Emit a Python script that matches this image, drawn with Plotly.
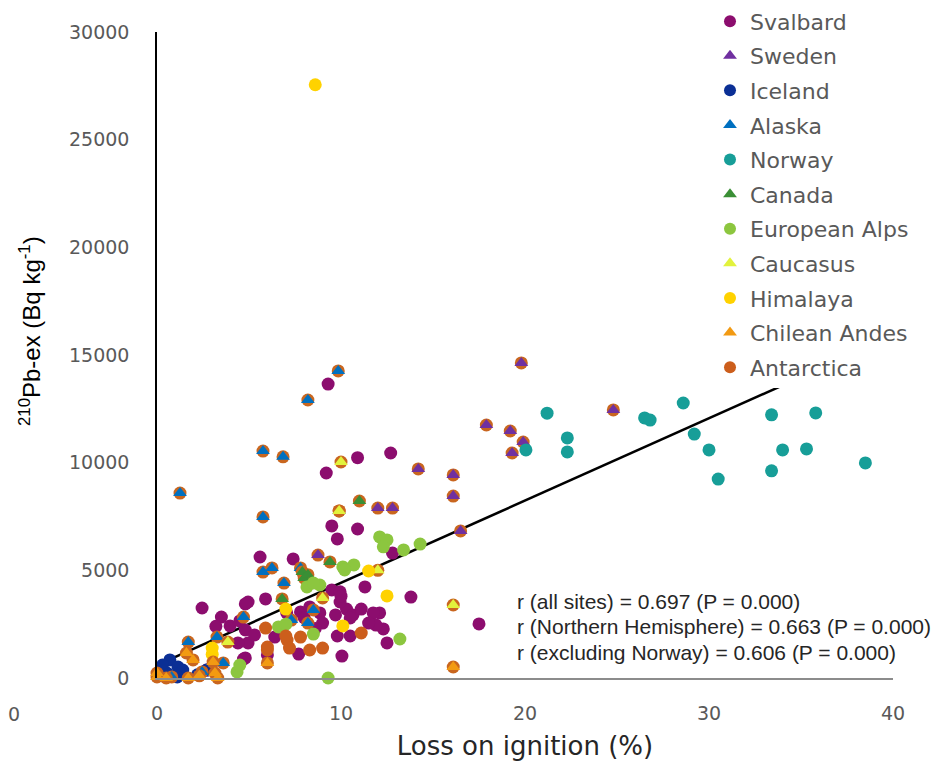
import plotly.graph_objects as go
import numpy as np

# ---- data (LOI %, 210Pb-ex Bq/kg) ----
svalbard_x = [9.3, 9.2, 10.9, 12.7, 9.5, 10.9, 9.8, 12.8, 13.8, 12.1, 12.3, 12.5, 17.5, 5.6, 7.4,
              9.5, 9.95, 11.3, 2.45, 3.5, 3.97, 4.5, 4.95, 5.9, 7.05, 7.8, 8.85, 9.0, 9.7, 10.3,
              10.65, 11.1, 11.75, 11.9, 10.5, 9.8, 7.7, 10.05, 4.7, 6.0, 9.95, 11.5, 10.5, 4.8,
              4.8, 4.95, 4.4, 4.8, 2.7, 8.3, 8.0, 10.0, 6.4, 5.3, 3.2, 8.6]
svalbard_y = [13650, 9520, 10230, 10450, 7060, 6920, 6460, 5800, 3760, 3020, 2280, 1630, 2510, 5620, 5530,
              4090, 4000, 4230, 3250, 2830, 2420, 2650, 3530, 3670, 3020, 3070, 3020, 2550, 2930, 3200,
              2930, 3200, 3020, 2460, 1950, 1950, 1110, 1020, 880, 1070, 3530, 2550, 2790, 3440,
              2230, 1630, 1630, 930, 370, 3300, 2800, 3800, 1900, 2000, 2400, 2300]

sweden_x = [19.8, 24.8, 17.9, 19.2, 19.9, 19.3, 14.2, 16.1, 16.1, 12.0, 12.8, 8.75, 16.5]
sweden_y = [14630, 12450, 11750, 11470, 10960, 10450, 9710, 9430, 8450, 7890, 7890, 5710, 6830]

iceland_x = [0.7, 1.14, 1.4, 0.54, 1.1, 2.2, 2.7, 0.3]
iceland_y = [840, 510, 370, 230, 50, 150, 370, 600]

alaska_x = [9.85, 8.2, 5.76, 6.85, 1.25, 5.76, 5.76, 6.25, 6.9, 7.3, 8.2, 8.5, 4.7, 1.7, 3.26,
            0.8, 2.45, 3.6, 9.9, 7.8]
alaska_y = [14260, 12910, 10540, 10270, 8590, 7480, 4920, 5110, 4410, 2690, 2550, 3160, 2830, 1670, 1900,
            50, 280, 700, 7760, 5110]

norway_x = [21.2, 22.3, 22.3, 20.05, 26.5, 26.8, 28.6, 29.2, 30.0, 30.5, 33.4, 33.4, 34.0, 35.3, 35.8, 38.5]
norway_y = [12300, 11150, 10500, 10590, 12080, 11980, 12770, 11330, 10590, 9240, 12220, 9620, 10590, 10640, 12310, 9990]

canada_x = [11.0, 9.4, 7.9, 8.0, 6.8, 8.2]
canada_y = [8220, 5390, 4920, 4640, 3670, 4800]

alps_x = [12.1, 12.5, 12.3, 13.4, 14.3, 10.1, 10.7, 10.2, 8.15, 8.85, 8.5, 6.6, 8.5, 4.35, 4.5, 9.3, 13.2, 7.0]
alps_y = [6550, 6410, 6090, 5950, 6220, 5160, 5250, 5020, 4230, 4320, 4410, 2370, 2040, 280, 600, 0, 1810, 2500]

caucasus_x = [10.0, 9.9, 9.0, 3.85, 16.1, 12.0]
caucasus_y = [10030, 7760, 3720, 1670, 3390, 5000]

himalaya_x = [8.6, 11.5, 12.5, 7.0, 10.1, 3.0, 3.0]
himalaya_y = [27550, 4970, 3810, 3200, 2420, 1390, 1100]

andes_x = [0.0, 0.0, 1.96, 1.7, 3.15, 3.3, 3.05, 1.6, 6.0, 16.1, 0.5, 2.3]
andes_y = [230, 50, 840, 0, 230, 0, 740, 1160, 700, 510, 0, 100]

antarctica_x = [5.9, 6.0, 6.0, 7.07, 7.2, 7.8, 8.3, 9.0, 11.1, 7.0]
antarctica_y = [2320, 1300, 1440, 1760, 1390, 1900, 1300, 1390, 2090, 1950]

# linear trend
trend_intercept = 600
trend_slope = 382
trend_x = [0, 38.5]

stats_text = ["r (all sites) = 0.697 (P = 0.000)",
              "r (Northern Hemisphere) = 0.663 (P = 0.000)",
              "r (excluding Norway) = 0.606 (P = 0.000)"]

x_ticks = [0, 10, 20, 30, 40]
y_ticks = [0, 5000, 10000, 15000, 20000, 25000, 30000]

series = [
    ("Svalbard", svalbard_x, svalbard_y, "circle", "#8C0D6E"),
    ("Sweden", sweden_x, sweden_y, "triangle-up", "#7030A0"),
    ("Iceland", iceland_x, iceland_y, "circle", "#0B2F95"),
    ("Alaska", alaska_x, alaska_y, "triangle-up", "#0070C0"),
    ("Norway", norway_x, norway_y, "circle", "#179E98"),
    ("Canada", canada_x, canada_y, "triangle-up", "#3A8F35"),
    ("European Alps", alps_x, alps_y, "circle", "#8CC63F"),
    ("Caucasus", caucasus_x, caucasus_y, "triangle-up", "#E2F23C"),
    ("Himalaya", himalaya_x, himalaya_y, "circle", "#FFD200"),
    ("Chilean Andes", andes_x, andes_y, "triangle-up", "#F29A12"),
    ("Antarctica", antarctica_x, antarctica_y, "circle", "#CC5E1C"),
]

BACK = "#C9661F"
WIDE = "DejaVu Sans"
fig = go.Figure()

tx = np.array(trend_x, dtype=float)
fig.add_trace(go.Scatter(x=tx, y=trend_intercept + trend_slope * tx, mode="lines",
                         line=dict(color="black", width=2.5), showlegend=False,
                         hoverinfo="skip", cliponaxis=False))

for i, (name, xs, ys, sym, col) in enumerate(series):
    if sym == "triangle-up":
        fig.add_trace(go.Scatter(x=xs, y=ys, mode="markers", showlegend=False,
                                 legendgroup=name,
                                 marker=dict(symbol="circle", size=13, color=BACK),
                                 hoverinfo="skip", cliponaxis=False))
    fig.add_trace(go.Scatter(x=xs, y=ys, mode="markers", name=name, legendgroup=name,
                             marker=dict(symbol=sym, size=13 if sym == "circle" else 12, color=col),
                             cliponaxis=False))

PW, PH = 736, 646  # plot area size in px
for k, t in enumerate(stats_text):
    fig.add_annotation(x=(515 - 157) / PW, y=(678 - (601 + 25.5 * k)) / PH,
                       xref="paper", yref="paper",
                       text=t, showarrow=False, xanchor="left", yanchor="middle",
                       font=dict(family="Liberation Sans, Arial", size=21, color="#262626"))

fig.add_annotation(x=(6 - 157) / PW, y=(678 - 714) / PH, xref="paper", yref="paper", text="0",
                   showarrow=False, xanchor="left", yanchor="middle",
                   font=dict(family=WIDE, size=19, color="#595959"))

fig.add_annotation(x=(30 - 157) / PW, y=(678 - 331) / PH, xref="paper", yref="paper",
                   text="<sup>210</sup>Pb-ex (Bq kg<sup>-1</sup>)", textangle=-90,
                   showarrow=False, xanchor="center", yanchor="middle",
                   font=dict(family="Liberation Sans, Arial", size=24, color="#000000"))

fig.update_layout(
    width=938, height=761,
    margin=dict(l=149, r=53, t=24, b=91, autoexpand=False),
    paper_bgcolor="white", plot_bgcolor="white",
    font=dict(family=WIDE, color="#595959"),
    legend=dict(x=(710 - 157) / PW, y=1.049, xanchor="left", yanchor="top",
                font=dict(family=WIDE, size=22, color="#595959"),
                bgcolor="rgba(255,255,255,1)", itemsizing="constant",
                traceorder="grouped", tracegroupgap=3, maxheight=700),
    xaxis=dict(range=[0, 40], tickvals=x_ticks, showgrid=False, zeroline=False,
               showline=True, linecolor="#8C8C8C", linewidth=2, ticklabelstandoff=17,
               tickfont=dict(family=WIDE, size=19, color="#595959"), ticks="",
               title=dict(text="Loss on ignition (%)",
                          font=dict(family=WIDE, size=26, color="#262626"), standoff=14)),
    yaxis=dict(range=[0, 30000], tickvals=y_ticks, tickformat="d", showgrid=False, zeroline=False,
               showline=True, linecolor="black", linewidth=1.5, ticks="", ticklabelstandoff=22,
               tickfont=dict(family=WIDE, size=19, color="#595959")),
)

fig.write_html("out.html")
